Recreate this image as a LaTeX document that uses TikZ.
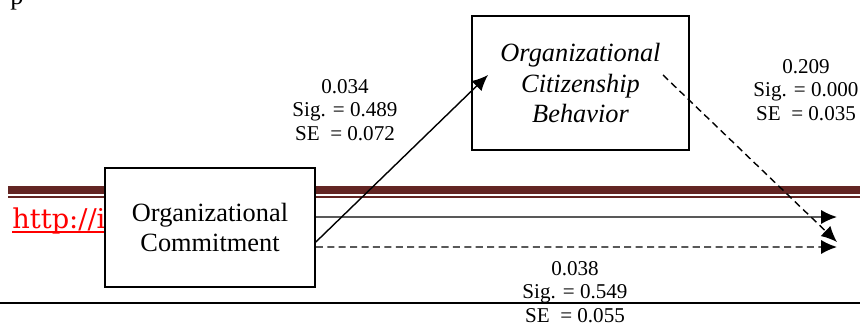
\documentclass[tikz,border=0pt]{standalone}
\usepackage{fontspec}
\setmainfont{Liberation Serif}
\newfontfamily\linkfont{DejaVu Serif}
\usetikzlibrary{arrows.meta}
\definecolor{maroon}{HTML}{632523}
\definecolor{linkred}{HTML}{FF0000}

\begin{document}
\begin{tikzpicture}[x=0.02cm, y=-0.02cm,
    construct/.style ={draw, line width=1pt, fill=white, align=center, inner sep=0pt},
    estimate/.style ={align=center, inner sep=0pt, font=\fontsize{12}{13.2}\selectfont},
    effect/.style ={line width=0.8pt, -{Latex[length=9pt,width=8pt]}},
    indirect/.style ={effect, dash pattern=on 4pt off 2.5pt}]
   \useasboundingbox (0,0) rectangle (860,325);

   \fill[maroon] (8,186) rectangle (860,194);
   \fill[maroon] (8,196) rectangle (860,198);
   \draw[line width=1.2pt] (0,303) -- (860,303);
   \node[anchor=base west, inner sep=0pt, text=linkred, font=\linkfont\fontsize{15.5}{18}\selectfont] (link) at (12,228) {http://i};
   \draw[linkred, line width=0.6pt] (12,232) -- (105,232);
   \node[anchor=base west, inner sep=0pt, font=\fontsize{15}{17}\selectfont] (page) at (10,4) {p};

   \node[construct, minimum width=4.2cm, minimum height=2.38cm, font=\fontsize{15}{17}\selectfont] (C) at (210,227.5) {Organizational\\Commitment};
   \node[construct, minimum width=4.34cm, minimum height=2.68cm, font=\fontsize{15}{17.6}\selectfont\itshape] (B) at (580.5,83) {Organizational\\Citizenship\\Behavior};

   \coordinate (Ca) at ([yshift=0.21cm]C.east);
   \coordinate (Cb) at ([yshift=-0.29cm]C.east);
   \coordinate (Cc) at ([yshift=-0.39cm]C.east);
   \coordinate (Bin) at (488,75);
   \coordinate (Bout) at (663,75);
   \coordinate (Y1) at (837,217);
   \coordinate (Y2) at (837,242);
   \coordinate (Y3) at (837,247);

   \draw[effect] (Cb) to (Bin);
   \draw[indirect] (Bout) to (Y2);
   \draw[effect] (Ca) to (Y1);
   \draw[indirect] (Cc) to (Y3);

   \node[estimate] (a) at (345,110) {0.034\\Sig. = 0.489\\SE~ = 0.072};
   \node[estimate] (b) at (806,90) {0.209\\Sig. = 0.000\\SE~ = 0.035};
   \node[estimate] (c) at (575,292) {0.038\\Sig. = 0.549\\SE~ = 0.055};
 \end{tikzpicture}
\end{document}
